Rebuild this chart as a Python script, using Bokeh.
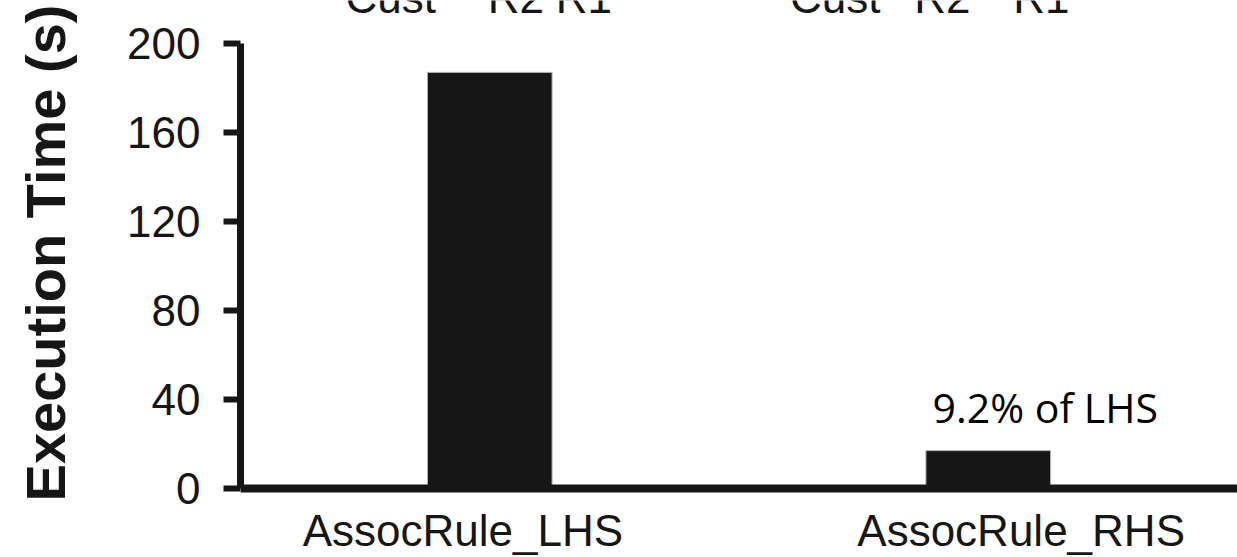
from bokeh.plotting import figure
from bokeh.models import Range1d, Label, Span, FixedTicker
from bokeh.embed import file_html
from bokeh.resources import INLINE

# ---- data ----
categories = ["AssocRule_LHS", "AssocRule_RHS"]
exec_time = [187, 17]
y_ticks = [0, 40, 80, 120, 160, 200]
y_label = "Execution Time (s)"
note_text = "9.2% of LHS"
top_labels = ["Cust", "R2", "R1"]

INK = "#161616"

# category index positions (centre of each category slot)
xpos = [i + 0.5 for i in range(len(categories))]
# category label anchors (labels sit slightly off the bar centres)
label_shift = [-0.054, 0.066]
label_pos = [round(x + d, 3) for x, d in zip(xpos, label_shift)]

p = figure(
    width=1237, height=557,
    x_range=Range1d(0, len(categories)),
    y_range=Range1d(-7.64, 219.3),
    output_backend="svg", toolbar_location=None,
    min_border_left=240, min_border_right=0,
    min_border_top=0, min_border_bottom=52,
)
p.outline_line_color = None
p.xgrid.visible = False
p.ygrid.visible = False
p.background_fill_color = "white"
p.border_fill_color = "white"

p.vbar(x=xpos, top=exec_time, width=0.25,
       fill_color=INK, line_color="#b0b0b0", line_width=1)

# y axis
ya = p.yaxis[0]
ya.bounds = (y_ticks[0], y_ticks[-1])
ya.ticker = FixedTicker(ticks=y_ticks)
ya.axis_line_width = 7
ya.axis_line_color = INK
ya.major_tick_line_width = 6
ya.major_tick_line_color = INK
ya.major_tick_out = 17
ya.major_tick_in = 0
ya.minor_tick_line_color = None
ya.major_label_standoff = 23
ya.major_label_text_font = "Liberation Sans"
ya.major_label_text_font_size = "44px"
ya.major_label_text_color = INK
ya.axis_label = y_label
ya.axis_label_text_font = "Liberation Sans"
ya.axis_label_text_font_style = "bold"
ya.axis_label_text_font_size = "56px"
ya.axis_label_text_color = INK
ya.axis_label_standoff = 47

# x axis: category names only (baseline drawn as a span at y=0)
xa = p.xaxis[0]
xa.ticker = FixedTicker(ticks=label_pos)
xa.major_label_overrides = {pos: cat for pos, cat in zip(label_pos, categories)}
xa.axis_line_color = None
xa.major_tick_line_color = None
xa.minor_tick_line_color = None
xa.major_tick_out = 0
xa.major_tick_in = 0
xa.major_label_standoff = 0
xa.major_label_text_font = "Liberation Sans"
xa.major_label_text_font_size = "44px"
xa.major_label_text_color = INK

p.add_layout(Span(location=0, dimension="width", line_color=INK, line_width=8))

# annotation above the RHS bar
p.add_layout(Label(x=xpos[1], y=exec_time[1], x_offset=57, y_offset=44,
                   text=note_text, text_align="center", text_baseline="alphabetic",
                   text_font="Open Sans", text_font_size="41px", text_color="black"))

# partially visible labels at the top edge
top_dx = [[-99, 26, 94], [-153, -46, 53]]
for x, dxs in zip(xpos, top_dx):
    for lab, dx in zip(top_labels, dxs):
        p.add_layout(Label(x=x, y=200, x_offset=dx, y_offset=46, text=lab,
                           text_align="center", text_baseline="alphabetic",
                           text_font="Liberation Sans", text_font_size="44px",
                           text_color=INK))

open("out.html", "w").write(file_html(p, INLINE))
